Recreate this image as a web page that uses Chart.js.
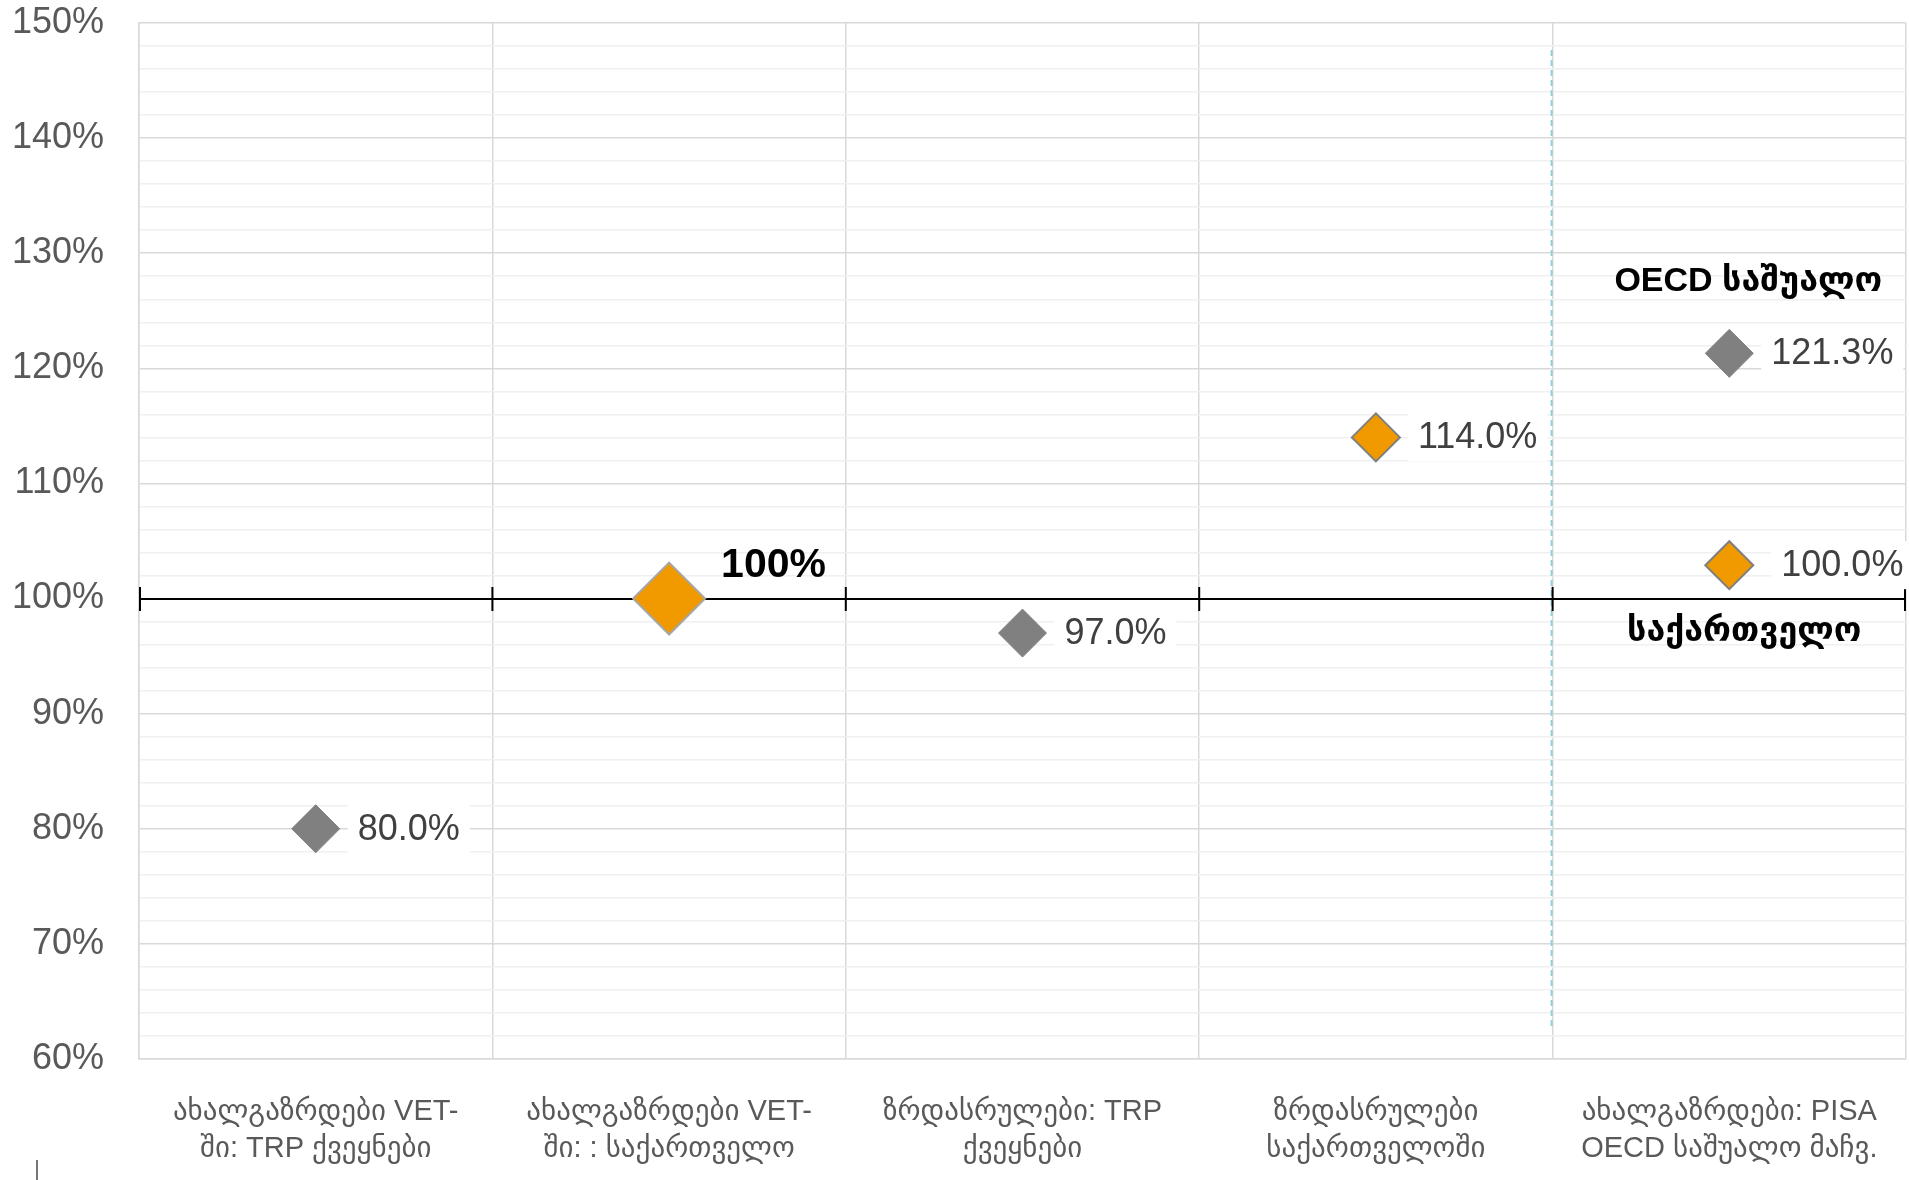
<!DOCTYPE html>
<html>
<head>
<meta charset="utf-8">
<script src="https://cdn.jsdelivr.net/npm/chart.js@4"></script>
<style>
  html, body { margin: 0; padding: 0; background: #ffffff; overflow: hidden; }
  #wrap { width: 1909px; height: 1180px; position: relative; }
  #c { display: block; }
</style>
</head>
<body>
<div id="wrap"><canvas id="c"></canvas></div>
<script>
// ---- data ----
const categories = [
  ["ახალგაზრდები VET-", "ში: TRP ქვეყნები"],
  ["ახალგაზრდები VET-", "ში: : საქართველო"],
  ["ზრდასრულები: TRP", "ქვეყნები"],
  ["ზრდასრულები", "საქართველოში"],
  ["ახალგაზრდები: PISA", "OECD საშუალო მაჩვ."]
];
const grayValues   = [80.0, null, 97.0, null, 121.3];
const grayLabels   = ["80.0%", null, "97.0%", null, "121.3%"];
const orangeValues = [null, 100.0, null, 114.0, 102.9];
const orangeLabels = [null, "100%", null, "114.0%", "100.0%"];
const yMin = 60, yMax = 150, yMinorStep = 2, yMajorStep = 10;
const referenceValue = 100;
const annotationTexts  = ["OECD საშუალო", "საქართველო"];
const annotationValues = [127.5, 97.1];
const annotationCategory = 4;

const LATIN = '"Liberation Sans", Arial, "DejaVu Sans", sans-serif';
const PLOT_RIGHT = 1906, PLOT_TOP = 23, PLOT_BOTTOM = 1059;

function zeroPadding(scale) {
  scale.paddingTop = 0; scale.paddingBottom = 0;
  scale.paddingLeft = 0; scale.paddingRight = 0;
}

const refLinePlugin = {
  id: 'refLine',
  beforeDatasetsDraw(chart) {
    const {ctx, chartArea, scales} = chart;
    const x = scales.x, y = scales.y;
    ctx.save();
    // dashed separator between categories 3 and 4
    const sepX = (x.getPixelForValue(3) + x.getPixelForValue(4)) / 2 - 1;
    ctx.strokeStyle = '#92CDDC';
    ctx.lineWidth = 2;
    ctx.setLineDash([6, 4]);
    ctx.beginPath();
    ctx.moveTo(sepX, chartArea.top + 27);
    ctx.lineTo(sepX, chartArea.bottom - 32);
    ctx.stroke();
    ctx.setLineDash([]);
    // reference line at 100%
    const yy = Math.round(y.getPixelForValue(referenceValue));
    ctx.strokeStyle = '#000000';
    ctx.lineWidth = 2;
    ctx.beginPath();
    ctx.moveTo(chartArea.left, yy);
    ctx.lineTo(chartArea.right, yy);
    const n = categories.length;
    for (let i = 0; i <= n; i++) {
      let bx;
      if (i === 0) bx = chartArea.left + 1;
      else if (i === n) bx = chartArea.right - 1;
      else bx = (x.getPixelForValue(i - 1) + x.getPixelForValue(i)) / 2;
      ctx.moveTo(bx, yy - 12);
      ctx.lineTo(bx, yy + 12);
    }
    ctx.stroke();
    ctx.restore();
  }
};

const labelPlugin = {
  id: 'pointLabels',
  afterDatasetsDraw(chart) {
    const {ctx, scales} = chart;
    const x = scales.x, y = scales.y;
    ctx.save();
    ctx.textBaseline = 'middle';
    ctx.textAlign = 'left';
    const sets = [
      {vals: grayValues, labs: grayLabels, ds: 0},
      {vals: orangeValues, labs: orangeLabels, ds: 1}
    ];
    sets.forEach(s => {
      s.vals.forEach((v, i) => {
        const t = s.labs[i];
        if (v == null || !t) return;
        const px = x.getPixelForValue(i);
        const py = y.getPixelForValue(v);
        if (s.ds === 1 && i === 1) {
          ctx.font = 'bold 41px ' + LATIN;
          ctx.fillStyle = '#000000';
          ctx.fillText(t, px + 52, py - 33);
          return;
        }
        const dx = (s.ds === 1 && i === 4) ? 52 : 42;
        ctx.font = '36px ' + LATIN;
        const w = ctx.measureText(t).width;
        ctx.fillStyle = '#ffffff';
        ctx.fillRect(px + dx - 10, py - 24, w + 20, 48);
        ctx.fillStyle = '#404040';
        ctx.fillText(t, px + dx, py + 1);
      });
    });
    // annotations
    ctx.textAlign = 'center';
    ctx.fillStyle = '#000000';
    ctx.font = 'bold 34px ' + LATIN;
    annotationTexts.forEach((t, k) => {
      const px = x.getPixelForValue(annotationCategory) + (k === 0 ? 19 : 15);
      const py = y.getPixelForValue(annotationValues[k]);
      ctx.fillText(t, px, py);
    });
    // small stray mark bottom-left
    ctx.strokeStyle = '#404850';
    ctx.lineWidth = 1.5;
    ctx.beginPath();
    ctx.moveTo(37, chart.height - 20);
    ctx.lineTo(37, chart.height);
    ctx.stroke();
    ctx.restore();
  }
};

const chart = new Chart(document.getElementById('c'), {
  type: 'line',
  data: {
    labels: categories,
    datasets: [
      {
        label: 'gray',
        data: grayValues,
        showLine: false,
        pointStyle: 'rectRot',
        pointRadius: 24,
        backgroundColor: '#808080',
        borderColor: '#808080',
        pointBorderWidth: 1
      },
      {
        label: 'orange',
        data: orangeValues,
        showLine: false,
        pointStyle: 'rectRot',
        pointRadius: [0, 36, 0, 24, 24],
        backgroundColor: '#F19A00',
        borderColor: ['#7F7F7F', '#A6A6A6', '#7F7F7F', '#7F7F7F', '#7F7F7F'],
        pointBorderWidth: 2
      }
    ]
  },
  options: {
    responsive: true,
    maintainAspectRatio: false,
    animation: false,
    events: [],
    layout: { autoPadding: false, padding: { top: 23, right: 3, left: 0, bottom: 0 } },
    plugins: { legend: { display: false }, tooltip: { enabled: false } },
    scales: {
      x: {
        offset: true,
        grid: { offset: true, color: '#D9D9D9', lineWidth: 1.5, drawTicks: false },
        border: { color: '#D9D9D9', width: 1.5 },
        ticks: {
          color: '#595959',
          font: { size: 29, family: LATIN, lineHeight: 1.26 },
          padding: 35,
          maxRotation: 0,
          autoSkip: false
        },
        afterFit(scale) { scale.height = 121; zeroPadding(scale); }
      },
      y: {
        min: yMin,
        max: yMax,
        grid: {
          drawTicks: false,
          color: (c) => (c.tick && c.tick.value % yMajorStep === 0) ? '#D9D9D9' : '#F0F0F0',
          lineWidth: 1.5
        },
        border: { color: '#D9D9D9', width: 1.5 },
        ticks: {
          stepSize: yMinorStep,
          autoSkip: false,
          color: '#595959',
          font: { size: 36, family: LATIN },
          padding: 35,
          callback: (v) => (v % yMajorStep === 0) ? v + '%' : ''
        },
        afterFit(scale) { scale.width = 139; zeroPadding(scale); }
      }
    }
  },
  plugins: [refLinePlugin, labelPlugin]
});

// correct any residual gaps so the plot area sits where the reference's does
const pad = chart.options.layout.padding;
const gapR = PLOT_RIGHT - chart.chartArea.right;
const gapT = PLOT_TOP - chart.chartArea.top;
const gapB = PLOT_BOTTOM - chart.chartArea.bottom;
if (Math.abs(gapR) > 0.5 || Math.abs(gapT) > 0.5 || Math.abs(gapB) > 0.5) {
  pad.right = pad.right - gapR;
  pad.top = pad.top + gapT;
  pad.bottom = pad.bottom - gapB;
  chart.update();
}
</script>
</body>
</html>
